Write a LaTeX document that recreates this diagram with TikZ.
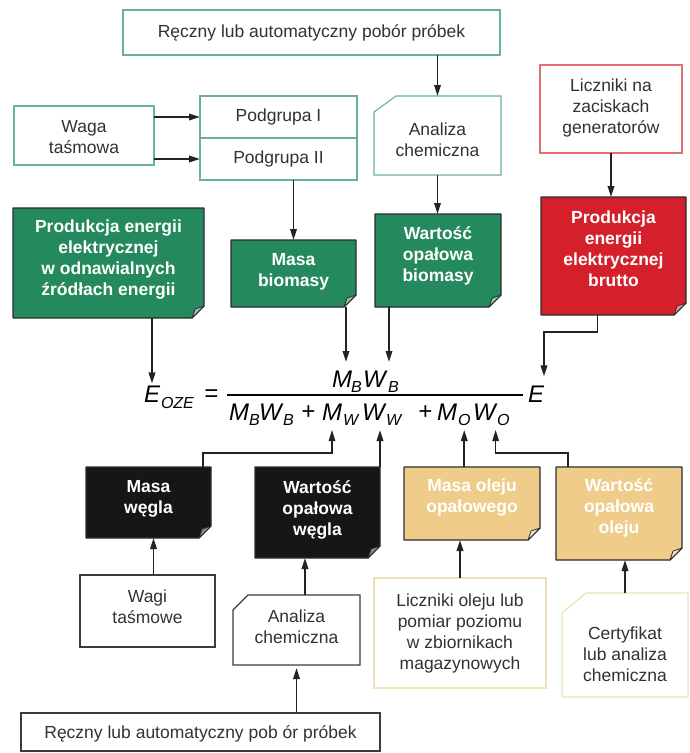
\documentclass[tikz,border=0pt]{standalone}
\usepackage{fontspec}
\setmainfont{Liberation Sans}
\usetikzlibrary{arrows.meta,calc}
\definecolor{grn}{RGB}{36,137,92}
\definecolor{rd}{RGB}{212,32,42}
\definecolor{blk}{RGB}{22,22,22}
\definecolor{tanc}{RGB}{240,204,138}
\definecolor{tealb}{RGB}{105,178,150}
\definecolor{pinkb}{RGB}{226,112,112}
\definecolor{paleb}{RGB}{238,226,186}
\definecolor{dkb}{RGB}{60,60,60}
\definecolor{txtc}{RGB}{50,50,50}
\definecolor{lnc}{RGB}{35,35,35}
\definecolor{edgec}{RGB}{45,45,45}
\newcommand\place[5]{\node[inner sep=0pt,outer sep=0pt,minimum width={(#4-#2)*1pt},minimum height={(#5-#3)*1pt}] (#1) at ({(#2+#4)/2},{(#3+#5)/2}) {};}
\newcommand\fold[2]{%
 \fill[#2,draw=edgec,line width=1.2pt,line join=round] (#1.north west) -- (#1.north east) -- ([yshift=12pt]#1.south east) -- ([xshift=-12pt]#1.south east) -- (#1.south west) -- cycle;
 \fill[#2!50!white,draw=edgec,line width=0.8pt,line join=round] ([yshift=12pt]#1.south east) -- ([xshift=-12pt]#1.south east) -- ([xshift=-9pt,yshift=9pt]#1.south east) -- cycle;}
\newcommand\chamf[4]{%
 \draw[#4] ([yshift=-#3pt]#1.north west) -- ([xshift=#2pt]#1.north west) -- (#1.north east) -- (#1.south east) -- (#1.south west) -- cycle;}
\begin{document}
\begin{tikzpicture}[x=1pt,y=-1pt,
  tx/.style={font=\fontsize{17.5}{21}\selectfont, text=txtc, align=center, inner sep=0pt},
  bt/.style={font=\bfseries\fontsize{17.5}{21}\selectfont, text=white, align=center, inner sep=0pt},
  bteal/.style={draw=tealb, line width=1.1pt},
  bpink/.style={draw=pinkb, line width=1.1pt},
  bdark/.style={draw=dkb, line width=1.1pt},
  bpale/.style={draw=paleb, line width=1.3pt},
  arr/.style={draw=lnc, line width=1.8pt, -{Triangle[length=11pt,width=6.5pt]}},
  thinarr/.style={draw=lnc, line width=1.2pt, -{Triangle[length=11pt,width=6.5pt]}},
  fm/.style={font=\fontsize{24}{24}\selectfont\itshape, inner sep=0pt, outer sep=0pt, anchor=base west, text=black},
  sb/.style={font=\fontsize{16}{16}\selectfont\itshape, inner sep=0pt, outer sep=0pt, anchor=base west, text=black}]
\fill[white] (0,0) rectangle (690,753);
\useasboundingbox (0,0) rectangle (690,753);

% ---- top part
\place{top}{123}{10}{500}{55}
\draw[bteal] (top.north west) rectangle (top.south east);
\node[tx] (topt) at (311.5,32.5) {Ręczny lub automatyczny pobór próbek};

\place{waga}{14}{106}{154}{165}
\draw[bteal] (waga.north west) rectangle (waga.south east);
\node[tx] (wagat) at (84,137.5) {Waga\\taśmowa};

\place{p1}{200}{96}{357}{138}
\draw[bteal] (p1.north west) rectangle (p1.south east);
\node[tx] (p1t) at (278.5,117) {Podgrupa I};
\place{p2}{200}{138}{357}{180}
\draw[bteal] (p2.north west) rectangle (p2.south east);
\node[tx] (p2t) at (278.5,159) {Podgrupa II};

\place{ana1}{374}{96}{501}{175}
\chamf{ana1}{22}{16}{bteal}
\node[tx] (ana1t) at (437.5,140) {Analiza\\chemiczna};

\place{lic}{540}{65}{682}{153}
\draw[bpink] (lic.north west) rectangle (lic.south east);
\node[tx] (lict) at (611,108) {Liczniki na\\zaciskach\\generatorów};

% ---- filled boxes, upper
\place{oze}{13}{208}{204}{318}
\fold{oze}{grn}
\node[bt] (ozet) at (108.5,260) {Produkcja energii\\elektrycznej\\w odnawialnych\\źródłach energii};

\place{mbio}{231}{240}{356}{307}
\fold{mbio}{grn}
\node[bt] (mbiot) at (293.5,271.5) {Masa\\biomasy};

\place{wbio}{375}{214}{501}{307}
\fold{wbio}{grn}
\node[bt] (wbiot) at (438,256) {Wartość\\opałowa\\biomasy};

\place{red}{541}{197}{686}{315}
\fold{red}{rd}
\node[bt] (redt) at (613.5,248.5) {Produkcja\\energii\\elektrycznej\\brutto};

% ---- formula
\node[fm] (eo) at (144,402) {E};
\node[sb] (eos) at (161,408) {OZE};
\node[fm] (eq) at (204,401) {=};
\draw[line width=1.3pt] (227,395) -- (523,395);
\node[fm] (nM) at (332,387) {M};
\node[sb] (nMs) at (351,392) {B};
\node[fm] (nW) at (363,387) {W};
\node[sb] (nWs) at (388,392) {B};
\node[fm] (dMB) at (229,420) {M};
\node[sb] (dMBs) at (249,425) {B};
\node[fm] (dWB) at (259,420) {W};
\node[sb] (dWBs) at (283,425) {B};
\node[fm] (dp1) at (301,419) {+};
\node[fm] (dMW) at (322,420) {M};
\node[sb] (dMWs) at (343,425) {W};
\node[fm] (dWW) at (362,420) {W};
\node[sb] (dWWs) at (386,425) {W};
\node[fm] (dp2) at (418,419) {+};
\node[fm] (dMO) at (437,420) {M};
\node[sb] (dMOs) at (458,425) {O};
\node[fm] (dWO) at (473,420) {W};
\node[sb] (dWOs) at (497,425) {O};
\node[fm] (eR) at (528,402) {E};

% ---- filled boxes, lower
\place{mwe}{86}{467}{211}{538}
\fold{mwe}{blk}
\node[bt] (mwet) at (148.5,499) {Masa\\węgla};

\place{wwe}{255}{467}{380}{558}
\fold{wwe}{blk}
\node[bt] (wwet) at (317.5,510) {Wartość\\opałowa\\węgla};

\place{mol}{404}{467}{540}{540}
\fold{mol}{tanc}
\node[bt] (molt) at (472,497.5) {Masa oleju\\opałowego};

\place{wol}{556}{467}{682}{560}
\fold{wol}{tanc}
\node[bt] (wolt) at (619,507.5) {Wartość\\opałowa\\oleju};

% ---- lower outlined boxes
\place{wagi}{80}{575}{215}{647}
\draw[bdark] (wagi.north west) rectangle (wagi.south east);
\node[tx] (wagit) at (147.5,607) {Wagi\\taśmowe};

\place{ana2}{233}{595}{360}{665}
\chamf{ana2}{15}{15}{bdark}
\node[tx] (ana2t) at (296.5,627) {Analiza\\chemiczna};

\place{lo}{374}{578}{546}{688}
\draw[bpale] (lo.north west) rectangle (lo.south east);
\node[tx] (lot) at (460,633) {Liczniki oleju lub\\pomiar poziomu\\w zbiornikach\\magazynowych};

\place{cert}{562}{593}{688}{697}
\chamf{cert}{24}{20}{bpale}
\node[tx] (certt) at (625,654.5) {Certyfikat\\lub analiza\\chemiczna};

\place{bot}{21}{713}{380}{751}
\draw[bdark] (bot.north west) rectangle (bot.south east);
\node[tx] (bott) at (200.5,734) {Ręczny lub automatyczny pob ór próbek};

% ---- connectors
\coordinate (ntip) at (0,362);
\coordinate (dtip) at (0,430);
\draw[arr] (top.south -| ana1.north) -- (ana1.north);
\draw[arr] (waga.east |- p1.west) -- (p1.west);
\draw[arr] (waga.east |- p2.west) -- (p2.west);
\draw[arr] (p2.south -| mbio.north) -- (mbio.north);
\draw[arr] (ana1.south) -- (ana1.south |- wbio.north);
\draw[arr] (lic.south) -- (lic.south |- red.north);
\draw[arr] (oze.south -| eo.north) -- ([yshift=2pt]eo.north);
\draw[arr] ([xshift=-10pt]mbio.south east) -- ([xshift=-10pt]mbio.south east |- ntip);
\draw[arr] ([xshift=14pt]wbio.south west) -- ([xshift=14pt]wbio.south west |- ntip);
\draw[arr] ([xshift=-16pt]red.south) -- ++(0,17) -| ([yshift=9pt]eR.north east);
\draw[thinarr] ([xshift=-8pt]mwe.north east) -- ++(0,-14) -| (dMW.south |- dtip);
\draw[arr] (wwe.north east) -- (wwe.north east |- dtip);
\draw[arr] (mol.north -| dMOs.south) -- (dMOs.south |- dtip);
\draw[thinarr] ([xshift=12pt]wol.north west) -- ++(0,-14) -| (dWO.south east |- dtip);
\draw[arr] ([xshift=6pt]wagi.north) -- ([xshift=6pt]wagi.north |- mwe.south);
\draw[arr] ([xshift=8.5pt]ana2.north) -- ([xshift=8.5pt]ana2.north |- wwe.south);
\draw[arr] (bot.north -| ana2.south) -- ([yshift=-3pt]ana2.south);
\draw[arr] (lo.north) -- (lo.north |- mol.south);
\draw[arr] (cert.north) -- (cert.north |- wol.south);
\end{tikzpicture}
\end{document}
